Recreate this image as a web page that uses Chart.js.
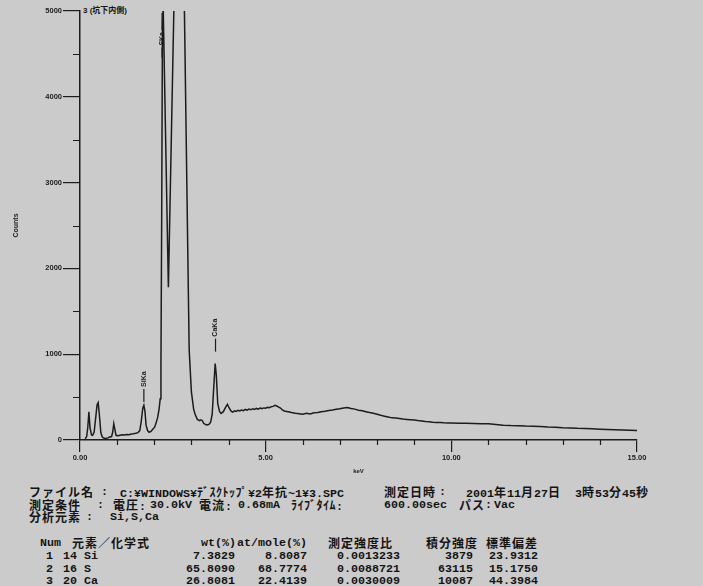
<!DOCTYPE html>
<html>
<head>
<meta charset="utf-8">
<script src="https://cdn.jsdelivr.net/npm/chart.js@4.4.1/dist/chart.umd.min.js"></script>
<style>
  html, body { margin: 0; padding: 0; }
  body { width: 703px; height: 586px; background: #cbcbcb; position: relative; overflow: hidden; }
  #spectrum { position: absolute; left: 0; top: 0; }
  .txt { position: absolute; white-space: pre; color: #141414; line-height: 14px; font-weight: bold; }
  .txt .a { font: bold 11.67px "Liberation Mono", monospace; }
  .txt .w { font: bold 12px "Noto Sans CJK JP", sans-serif; letter-spacing: 1px; }
  .txt .k { font: bold 12px "Noto Sans CJK JP", sans-serif; letter-spacing: 0.5px; }
  .r { text-align: right; }
  #title { position: absolute; left: 83px; top: 4px; font: bold 8px "Liberation Sans", "Noto Sans CJK JP", sans-serif; color: #161616; white-space: pre; }
</style>
</head>
<body>
<div id="title">3 (坑下内側)</div>
<canvas id="spectrum" width="703" height="480"></canvas>
<div id="info"></div>
<script>
// EDS spectrum, energy (keV) vs counts
const energyKeV = [
  0.14, 0.18, 0.21, 0.24, 0.27, 0.31, 0.34, 0.38, 0.42, 0.46, 0.49, 0.52, 0.56, 0.60, 0.65, 0.70, 0.75, 0.80, 0.85, 0.88,
  0.91, 0.94, 0.97, 1.02, 1.08, 1.14, 1.20, 1.26, 1.32, 1.38, 1.44, 1.50, 1.56, 1.61, 1.65, 1.69, 1.72, 1.75, 1.78, 1.82,
  1.86, 1.91, 1.96, 2.01, 2.05, 2.09, 2.13, 2.16, 2.18, 2.20, 2.22, 2.24, 2.38, 2.53, 2.66, 2.81, 2.94, 3.00, 3.06, 3.10,
  3.16, 3.22, 3.26, 3.29, 3.33, 3.38, 3.43, 3.48, 3.52, 3.56, 3.60, 3.64, 3.67, 3.71, 3.76, 3.80, 3.86, 3.92, 3.97, 4.02,
  4.07, 4.11, 4.16, 4.2, 4.25, 4.3, 4.35, 4.4, 4.45, 4.5, 4.55, 4.6, 4.65, 4.7, 4.75, 4.8, 4.85, 4.9, 4.95, 5.0,
  5.05, 5.1, 5.15, 5.2, 5.25, 5.3, 5.35, 5.4, 5.45, 5.5, 5.6, 5.7, 5.8, 5.9, 6.0, 6.1, 6.2, 6.3, 6.4, 6.5,
  6.6, 6.7, 6.8, 6.9, 7.0, 7.1, 7.2, 7.3, 7.4, 7.5, 7.6, 7.7, 7.8, 7.9, 8.0, 8.1, 8.2, 8.3, 8.4, 8.5,
  8.6, 8.7, 8.8, 8.9, 9.0, 9.1, 9.2, 9.3, 9.4, 9.5, 9.6, 9.7, 9.8, 9.9, 10.0, 10.2, 10.4, 10.6, 10.8, 11.0,
  11.2, 11.4, 11.6, 11.8, 12.0, 12.2, 12.4, 12.6, 12.8, 13.0, 13.2, 13.4, 13.6, 13.8, 14.0, 14.2, 14.4, 14.6, 14.8, 15.0
];
const counts = [
  15, 40, 150, 330, 140, 60, 55, 90, 250, 410, 436, 300, 90, 35, 20, 18, 25, 35, 40, 90,
  190, 120, 55, 50, 55, 60, 58, 65, 62, 70, 72, 78, 85, 110, 220, 370, 405, 330, 170, 110,
  90, 100, 125, 150, 200, 260, 360, 480, 900, 2600, 4800, 5060, 1780, 5060, 6500, 5060, 1050, 560, 360, 300,
  240, 225, 235, 228, 195, 180, 175, 185, 210, 300, 600, 890, 760, 420, 330, 310, 330, 380, 415, 370,
  335, 325, 340, 332, 346, 338, 350, 342, 356, 348, 360, 352, 364, 356, 368, 360, 372, 366, 374, 370,
  380, 376, 388, 392, 405, 396, 384, 372, 350, 338, 330, 320, 312, 306, 300, 312, 304, 318, 320, 330,
  334, 344, 350, 358, 364, 374, 378, 366, 360, 346, 340, 330, 320, 312, 300, 288, 278, 268, 258, 256,
  250, 244, 240, 236, 232, 226, 222, 215, 212, 207, 204, 203, 200, 198, 199, 196, 194, 192, 190, 188,
  180, 173, 168, 166, 162, 160, 158, 152, 149, 144, 141, 136, 133, 130, 126, 123, 119, 116, 113, 110
];

// Peak markers
const markerNames = ['SiKa', 'SKa', 'CaKa'];
const markerKeV = [1.72, 2.21, 3.65];
const markerCounts = [444, 5000, 1030];

// Axis ticks
const yTickStep = 500;
const yLabelEvery = 1000;
const xTickStep = 1;
const xLabelEvery = 5;

// Result table
const rowNum = ['1', '2', '3'];
const rowElement = ['14 Si', '16 S', '20 Ca'];
const wtPercent = ['7.3829', '65.8090', '26.8081'];
const atPercent = ['8.8087', '68.7774', '22.4139'];
const intensityRatio = ['0.0013233', '0.0088721', '0.0030009'];
const integrated = ['3879', '63115', '10087'];
const stdDev = ['23.9312', '15.1750', '44.3984'];

const ink = '#1c1c1c';

// Header lines under the chart: [text, left x, row y]
const infoSegments = [
  ['ファイル名', 29, 490], [':', 101, 490], ['C:¥WINDOWS¥ﾃﾞｽｸﾄｯﾌﾟ¥2年抗~1¥3.SPC', 120, 490],
  ['測定日時', 384, 490], [':', 439, 490], ['2001年11月27日', 466, 490], ['3時53分45秒', 575, 490],
  ['測定条件', 29, 502.5], [':', 97, 502.5], ['電圧:', 113, 502.5], ['30.0kV', 150, 502.5], ['電流:', 199, 502.5],
  ['0.68mA', 238, 502.5], ['ﾗｲﾌﾞﾀｲﾑ:', 291, 502.5], ['600.00sec', 384, 502.5], ['パス', 459, 502.5], [':', 485, 502.5], ['Vac', 494, 502.5],
  ['分析元素', 29, 515], [':', 86, 515], ['Si,S,Ca', 110, 515],
  ['Num', 40, 541], ['元素／化学式', 72, 541], ['wt(%)', 201, 541], ['at/mole(%)', 237, 541],
  ['測定強度比', 328, 541], ['積分強度', 426, 541], ['標準偏差', 486, 541]
];
const rowY = [554, 566.5, 579];

(function() {
  'use strict';

  const info = document.getElementById('info');

  // split a string into runs of full-width, half-width kana and ascii text
  function charClass(ch) {
    const c = ch.charCodeAt(0);
    if (c >= 0xff61 && c <= 0xff9f) return 'k';
    if ((c >= 0x3000 && c <= 0x9fff) || (c >= 0xff01 && c <= 0xff60)) return 'w';
    return 'a';
  }

  function addText(text, x, y, rightAlign) {
    const d = document.createElement('div');
    d.className = 'txt' + (rightAlign ? ' r' : '');
    let run = '';
    let cls = null;
    const flush = () => {
      if (!run) return;
      const s = document.createElement('span');
      s.className = cls;
      s.textContent = run;
      d.appendChild(s);
      run = '';
    };
    for (const ch of text) {
      const c = charClass(ch);
      if (c !== cls) { flush(); cls = c; }
      run += ch;
    }
    flush();
    d.style.top = (y - 7) + 'px';
    if (rightAlign) {
      d.style.left = (x - 120) + 'px';
      d.style.width = '120px';
    } else {
      d.style.left = x + 'px';
    }
    info.appendChild(d);
  }
  infoSegments.forEach(s => addText(s[0], s[1], s[2], false));

  // table rows, numbers right aligned on their column edge
  rowNum.forEach((n, i) => {
    addText(n, 53, rowY[i], true);
    addText(rowElement[i], 63, rowY[i], false);
    addText(wtPercent[i], 235, rowY[i], true);
    addText(atPercent[i], 307, rowY[i], true);
    addText(intensityRatio[i], 400, rowY[i], true);
    addText(integrated[i], 473, rowY[i], true);
    addText(stdDev[i], 538, rowY[i], true);
  });

  if (typeof Chart === 'undefined') {
    console.error('Chart.js not loaded');
    return;
  }

  Chart.defaults.font.family = '"Liberation Sans", Arial, sans-serif';
  Chart.defaults.color = ink;

  // Short minor ticks and the rotated peak labels
  const spectrumMarks = {
    id: 'spectrumMarks',
    afterDraw(chart) {
      const { ctx, chartArea } = chart;
      const xs = chart.scales.x;
      const ys = chart.scales.y;
      ctx.save();
      ctx.strokeStyle = ink;
      ctx.lineWidth = 1.2;
      ctx.beginPath();
      xs.ticks.forEach(t => {
        if (t.value % xLabelEvery !== 0) {
          const px = Math.round(xs.getPixelForValue(t.value)) + 0.5;
          ctx.moveTo(px, chartArea.bottom);
          ctx.lineTo(px, chartArea.bottom + 5);
        }
      });
      ys.ticks.forEach(t => {
        if (t.value % yLabelEvery !== 0) {
          const py = Math.round(ys.getPixelForValue(t.value)) + 0.5;
          ctx.moveTo(chartArea.left - 7, py);
          ctx.lineTo(chartArea.left, py);
        }
      });
      ctx.stroke();

      ctx.font = 'bold 7px "Liberation Sans", Arial, sans-serif';
      ctx.fillStyle = ink;
      ctx.textBaseline = 'middle';
      markerNames.forEach((name, i) => {
        const px = xs.getPixelForValue(markerKeV[i]);
        const tw = ctx.measureText(name).width;
        ctx.beginPath();
        let textBottom;
        if (markerCounts[i] >= ys.max) {
          // peak off scale: label hangs from the top edge
          const top = chartArea.top;
          ctx.moveTo(px, top + 2);
          ctx.lineTo(px, top + 19);
          textBottom = top + 21 + tw;
          ctx.moveTo(px, textBottom + 2);
          ctx.lineTo(px, textBottom + 12);
        } else {
          const base = ys.getPixelForValue(markerCounts[i]);
          ctx.moveTo(px, base);
          ctx.lineTo(px, base - 13);
          textBottom = base - 15;
        }
        ctx.stroke();
        ctx.save();
        ctx.translate(px, textBottom);
        ctx.rotate(-Math.PI / 2);
        ctx.textAlign = 'left';
        ctx.fillText(name, 0, 0);
        ctx.restore();
      });
      ctx.restore();
    }
  };

  const points = energyKeV.map((e, i) => ({ x: e, y: counts[i] }));

  const config = {
    type: 'line',
    data: {
      datasets: [{
        data: points,
        borderColor: ink,
        borderWidth: 1.5,
        pointRadius: 0,
        tension: 0,
        fill: false
      }]
    },
    options: {
      responsive: false,
      animation: false,
      layout: { padding: { left: 0, right: 66, top: 11, bottom: 0 } },
      plugins: {
        legend: { display: false },
        tooltip: { enabled: false },
        title: { display: false }
      },
      scales: {
        x: {
          type: 'linear',
          min: 0,
          max: 15,
          afterFit: s => { s.height = 40; },
          border: { display: true, color: ink, width: 1.5 },
          grid: {
            drawOnChartArea: false,
            drawTicks: true,
            tickLength: 12,
            lineWidth: 1.2,
            color: c => (c.tick && c.tick.value % xLabelEvery === 0) ? ink : 'rgba(0,0,0,0)'
          },
          ticks: {
            stepSize: xTickStep,
            autoSkip: false,
            maxRotation: 0,
            padding: 1,
            color: ink,
            font: { size: 7.5, weight: 'bold' },
            callback: v => (v % xLabelEvery === 0) ? v.toFixed(2) : ''
          },
          title: {
            display: true,
            text: 'keV',
            color: ink,
            font: { size: 6, weight: 'bold' },
            padding: { top: 0, bottom: 5 }
          }
        },
        y: {
          min: 0,
          max: 5000,
          afterFit: s => { s.width = 80; },
          border: { display: true, color: ink, width: 1.5 },
          grid: {
            drawOnChartArea: false,
            drawTicks: true,
            tickLength: 17,
            lineWidth: 1.2,
            color: c => (c.tick && c.tick.value % yLabelEvery === 0) ? ink : 'rgba(0,0,0,0)'
          },
          ticks: {
            stepSize: yTickStep,
            autoSkip: false,
            padding: 1,
            color: ink,
            font: { size: 7.5, weight: 'bold' },
            callback: v => (v % yLabelEvery === 0) ? String(v) : ''
          },
          title: {
            display: true,
            text: 'Counts',
            color: ink,
            font: { size: 7, weight: 'bold' },
            padding: { top: 12, bottom: 0 }
          }
        }
      }
    },
    plugins: [spectrumMarks]
  };

  new Chart(document.getElementById('spectrum').getContext('2d'), config);
})();
</script>
</body>
</html>
